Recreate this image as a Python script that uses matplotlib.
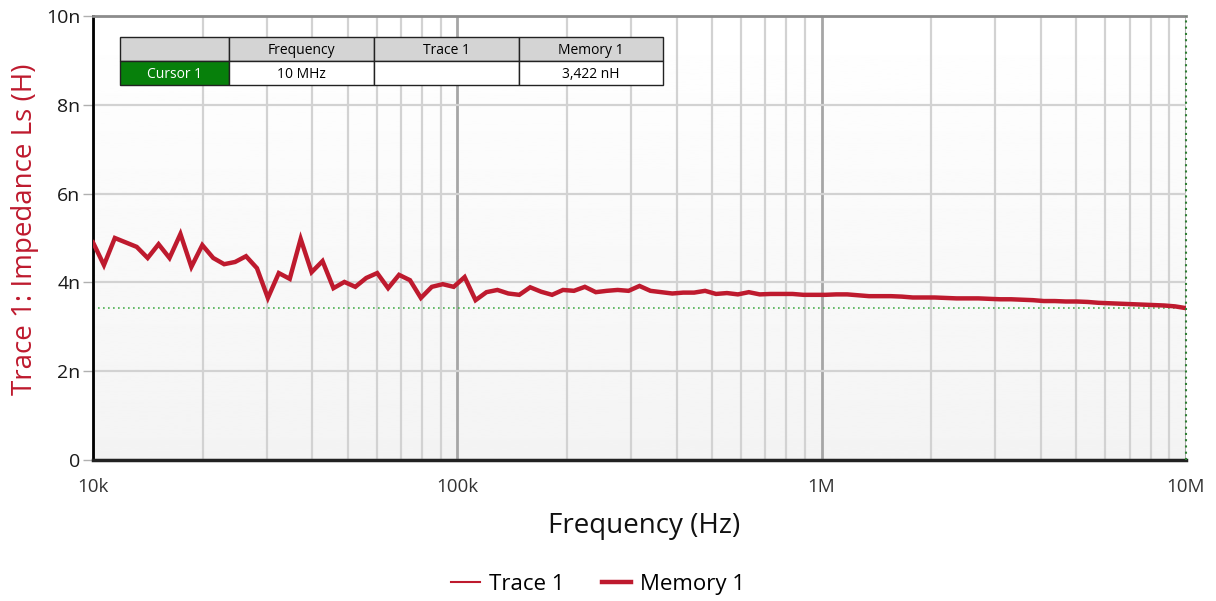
import numpy as np
import matplotlib
matplotlib.use('Agg')
import matplotlib.pyplot as plt
from matplotlib.ticker import FixedLocator, LogLocator, NullFormatter

plt.rcParams['font.family'] = ['Open Sans', 'DejaVu Sans']

# Данные: 101 точка, логарифмическая сетка 10 кГц .. 10 МГц
freq_start, freq_stop, n_points = 1e4, 1e7, 101
memory1_nH = [
    4.90, 4.39, 5.00, 4.90, 4.80, 4.55, 4.86, 4.55, 5.09, 4.35,
    4.84, 4.55, 4.41, 4.46, 4.59, 4.32, 3.65, 4.21, 4.08, 4.98,
    4.23, 4.48, 3.87, 4.01, 3.90, 4.10, 4.21, 3.87, 4.17, 4.05,
    3.65, 3.90, 3.96, 3.90, 4.12, 3.60, 3.78, 3.83, 3.75, 3.72,
    3.89, 3.79, 3.72, 3.83, 3.81, 3.90, 3.78, 3.81, 3.83, 3.81,
    3.92, 3.81, 3.78, 3.75, 3.77, 3.77, 3.81, 3.74, 3.76, 3.73,
    3.78, 3.73, 3.74, 3.74, 3.74, 3.72, 3.72, 3.72, 3.73, 3.73,
    3.71, 3.69, 3.69, 3.69, 3.68, 3.66, 3.66, 3.66, 3.65, 3.64,
    3.64, 3.64, 3.63, 3.62, 3.62, 3.61, 3.60, 3.58, 3.58, 3.57,
    3.57, 3.56, 3.54, 3.53, 3.52, 3.51, 3.50, 3.49, 3.48, 3.46,
    3.42,
]
trace1_nH = []          # Trace 1 пустой, только в легенде
cursor_freq = 1e7
cursor_value_nH = 3.422

y_ticks_nH = [0, 2, 4, 6, 8, 10]
y_tick_labels = ['0', '2n', '4n', '6n', '8n', '10n']
x_ticks = [1e4, 1e5, 1e6, 1e7]
x_tick_labels = ['10k', '100k', '1M', '10M']

table_header = ['', 'Frequency', 'Trace 1', 'Memory 1']
table_row = ['Cursor 1', '10 MHz', '', '3,422 nH']

red = '#be1a2e'

freqs = np.logspace(np.log10(freq_start), np.log10(freq_stop), n_points)

fig = plt.figure(figsize=(12.16, 6.01), dpi=100)
ax = fig.add_axes([93 / 1216, 141 / 601, 1093 / 1216, 444 / 601])
ax.set_xscale('log')
ax.set_xlim(freq_start, freq_stop)
ax.set_ylim(0, 10)

# Фон с лёгким градиентом
grad = np.linspace(1.0, 0.955, 256).reshape(-1, 1)
ax.imshow(grad, cmap='gray', vmin=0, vmax=1, extent=[0, 1, 0, 1],
          transform=ax.transAxes, aspect='auto', zorder=0)

# Сетка
ax.xaxis.set_major_locator(FixedLocator(x_ticks))
ax.xaxis.set_minor_locator(LogLocator(base=10, subs=np.arange(2, 10)))
ax.xaxis.set_minor_formatter(NullFormatter())
ax.set_xticks(x_ticks, x_tick_labels)
ax.set_yticks(y_ticks_nH, y_tick_labels)
ax.grid(True, which='major', axis='x', color='#a6a6a6', lw=2, zorder=1)
ax.grid(True, which='minor', axis='x', color='#d2d2d2', lw=1.6, zorder=1)
ax.grid(True, which='major', axis='y', color='#d2d2d2', lw=1.6, zorder=1)

ax.tick_params(axis='x', which='both', length=0, pad=13, labelsize=13.5,
               labelcolor='#333333')
ax.tick_params(axis='y', length=7, width=1, color='#b0b0b0', pad=2,
               labelsize=14, labelcolor='#1a1a1a')

ax.spines['top'].set_color('#8c8c8c')
ax.spines['top'].set_linewidth(2)
ax.spines['left'].set_color('black')
ax.spines['left'].set_linewidth(2)
ax.spines['bottom'].set_color('#222222')
ax.spines['bottom'].set_linewidth(2.5)
ax.spines['right'].set_visible(False)

# Курсор
ax.axhline(cursor_value_nH, color='#4caf50', lw=1.2, ls=(0, (1, 2)), zorder=2)
ax.axvline(cursor_freq, color='#2e7d32', lw=1.5, ls=(0, (1, 2)), zorder=4,
           clip_on=False)

# Кривые
ax.plot(freqs[:len(trace1_nH)], trace1_nH, color=red, lw=1.5, label='Trace 1')
ax.plot(freqs, memory1_nH, color=red, lw=3.2, label='Memory 1', zorder=3,
        solid_joinstyle='miter')

ax.set_xlabel('Frequency (Hz)', fontsize=20, color='#111111')
ax.xaxis.set_label_coords(0.5045, -0.118)
ax.set_ylabel('Trace 1: Impedance Ls (H)', fontsize=20, color=red)
ax.yaxis.set_label_coords(-0.049, 0.52)

# Таблица курсора
tbl = ax.table(cellText=[table_row], colLabels=table_header,
               bbox=[27 / 1093, 375 / 444, 543 / 1093, 48 / 444],
               colWidths=[109, 145, 145, 144], cellLoc='center', zorder=5)
tbl.auto_set_font_size(False)
for (r, c), cell in tbl.get_celld().items():
    cell.set_edgecolor('#222222')
    cell.set_linewidth(1)
    cell.get_text().set_fontsize(10)
    cell.get_text().set_va('center_baseline')
    if r == 0:
        cell.set_facecolor('#d4d4d4')
    elif c == 0:
        cell.set_facecolor('#07800b')
        cell.get_text().set_color('white')
    else:
        cell.set_facecolor('white')

fig.legend(loc='center', bbox_to_anchor=(0.492, 0.028), ncol=2, frameon=False,
           fontsize=16, handlelength=1.3, columnspacing=1.7, handletextpad=0.4)

fig.savefig('out.png', dpi=100)
